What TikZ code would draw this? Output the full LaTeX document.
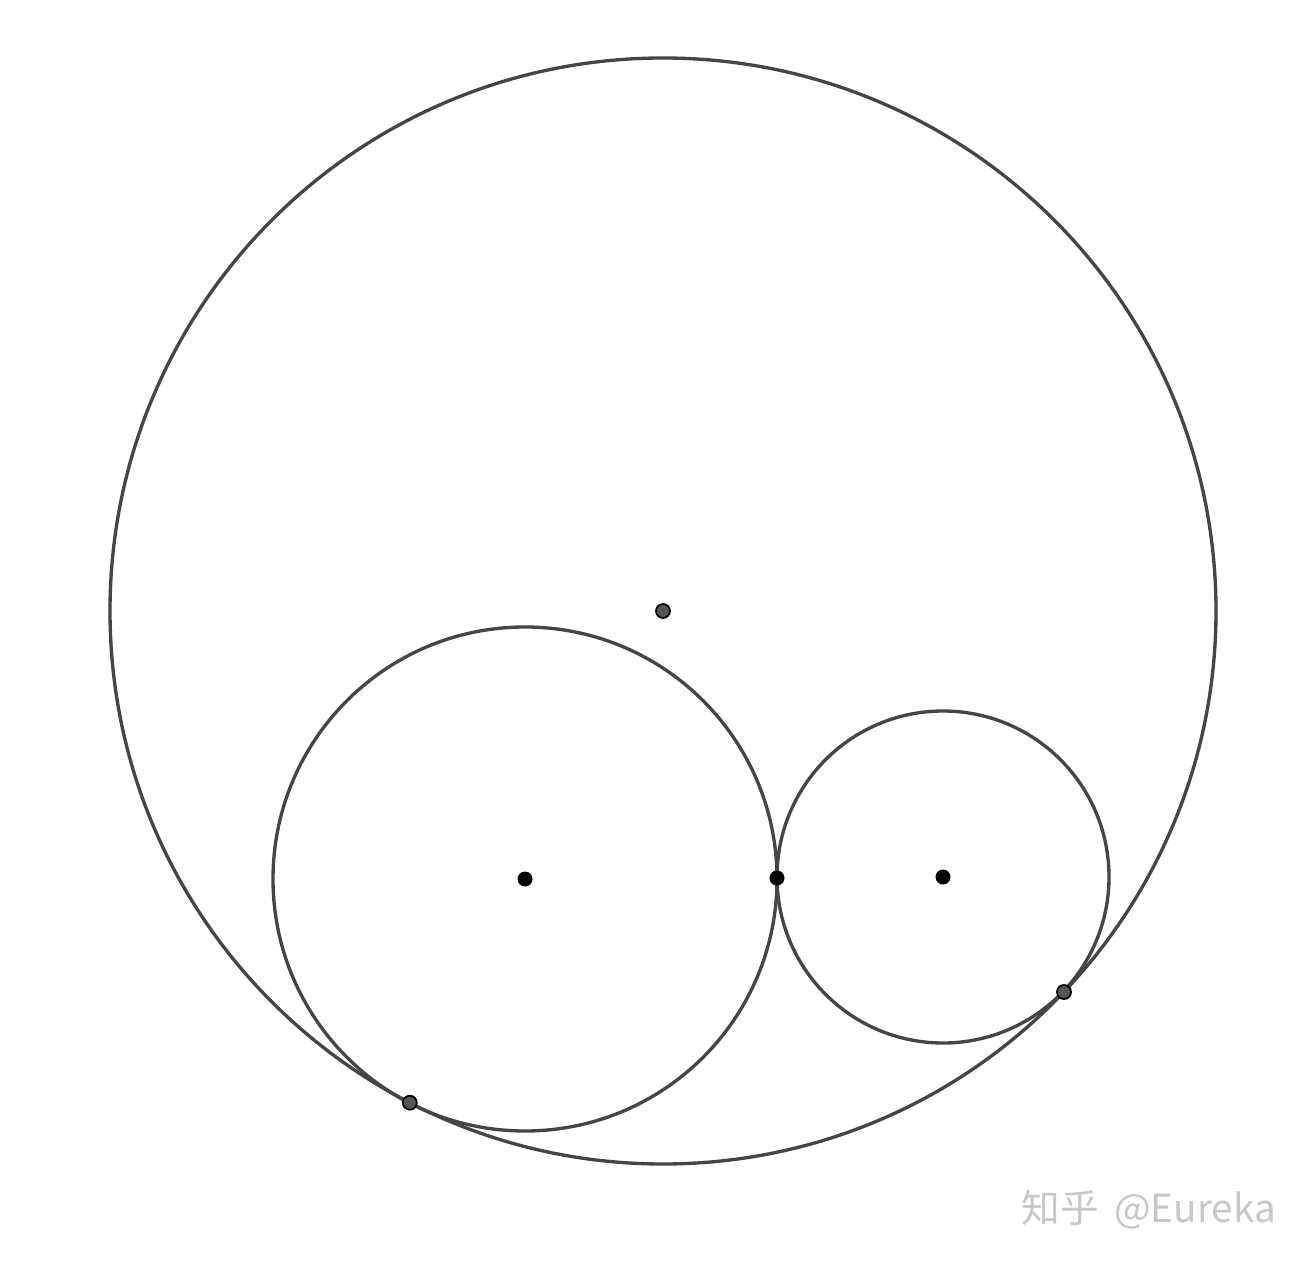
\documentclass[tikz,border=0pt]{standalone}
\usepackage{fontspec}
\newfontfamily\cjk{Noto Sans CJK SC}
\usetikzlibrary{positioning}
\definecolor{circgray}{HTML}{454545}
\definecolor{ptgray}{HTML}{555555}
\tikzset{
  circ/.style={draw=circgray, line width=0.95pt},
  blackpt/.style={circle, fill=black, inner sep=0pt, minimum size=0.15cm},
  graypt/.style={circle, fill=ptgray, draw=black, line width=0.5pt, inner sep=0pt, minimum size=0.14cm},
  mark text/.style={text=black!22, font=\cjk\fontsize{11}{13}\selectfont, anchor=west, inner sep=0pt}
}
\begin{document}
\begin{tikzpicture}[x=0.01cm, y=-0.01cm]
    \useasboundingbox (0,0) rectangle (1309,1264);
    \coordinate (O) at (663,611);
    \coordinate (A) at (525,879);
    \coordinate (B) at (943,877);

    \draw[circ] (O) circle [radius=553];
    \draw[circ] (A) circle [radius=252];
    \draw[circ] (B) circle [radius=166];

    \node[graypt] (Odot) at (O) {};
    \node[blackpt] (Adot) at (A) {};
    \node[blackpt] (Bdot) at (B) {};
    \node[blackpt] (T) at (777,878) {};
    \node[graypt] (TA) at (409.8,1102.7) {};
    \node[graypt] (TB) at (1064,992) {};

    \node[mark text] (wm) at (1021,1210) {知乎 \,@Eureka};
\end{tikzpicture}
\end{document}
